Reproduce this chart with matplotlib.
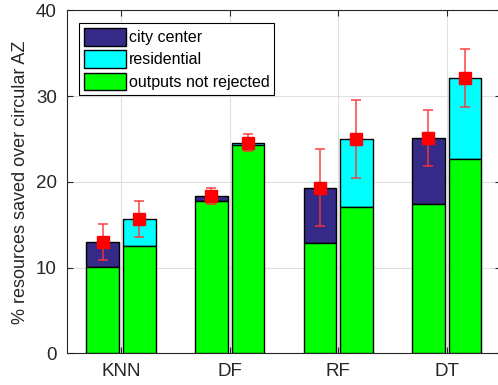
import numpy as np
import matplotlib.pyplot as plt

plt.rcParams['font.family'] = ['Liberation Sans', 'DejaVu Sans']

methods = ["KNN", "DF", "RF", "DT"]
# left bar of each group: city center, right bar: residential
not_rejected_city = [10.1, 17.8, 12.9, 17.4]
total_city = [12.95, 18.3, 19.3, 25.1]
err_city_hi = [15.1, 19.3, 23.8, 28.4]
err_city_lo = [10.85, 17.4, 14.85, 21.8]

not_rejected_res = [12.5, 24.25, 17.06, 22.7]
total_res = [15.7, 24.56, 24.95, 32.1]
err_res_hi = [17.8, 25.57, 29.5, 35.45]
err_res_lo = [13.6, 23.55, 20.5, 28.76]

C_CITY = "#352a87"
C_RES = "#00ffff"
C_GREEN = "#00ff00"

fig = plt.figure(figsize=(4.98, 3.85), dpi=100)
ax = fig.add_axes([66.7 / 498, (385 - 353.3) / 385, 434.3 / 498, 343 / 385])

x = np.arange(1, len(methods) + 1)
w = 0.30
off = 0.168
edge = dict(edgecolor="black", linewidth=1.0, zorder=3)

ax.bar(x - off, np.subtract(total_city, not_rejected_city), w, bottom=not_rejected_city,
       color=C_CITY, label="city center", **edge)
ax.bar(x + off, np.subtract(total_res, not_rejected_res), w, bottom=not_rejected_res,
       color=C_RES, label="residential", **edge)
ax.bar(x - off, not_rejected_city, w, color=C_GREEN, label="outputs not rejected", **edge)
ax.bar(x + off, not_rejected_res, w, color=C_GREEN, **edge)

for xs, mid, hi, lo in [(x - off, total_city, err_city_hi, err_city_lo),
                        (x + off, total_res, err_res_hi, err_res_lo)]:
    mid = np.array(mid)
    yerr = [mid - np.array(lo), np.array(hi) - mid]
    ax.errorbar(xs, mid, yerr=yerr, fmt="s", color="red", ecolor=(1, 0.2, 0.2, 0.85),
                markersize=8, elinewidth=1.2, capsize=3.5, capthick=1.2, zorder=5)

ax.set_xlim(0.5, 4.5)
ax.set_ylim(0, 40)
ax.set_xticks(x)
ax.set_xticklabels(methods)
ax.set_yticks([0, 10, 20, 30, 40])
ax.tick_params(labelsize=13.5, colors="#262626", direction="in", length=4,
               top=True, right=True, pad=7)
ax.set_ylabel("% resources saved over circular AZ", fontsize=13, color="#262626", labelpad=5)
ax.grid(True, color="#e0e0e0", linewidth=0.8, zorder=0)
ax.set_axisbelow(True)
for s in ax.spines.values():
    s.set_color("#262626")
    s.set_linewidth(0.8)

leg = ax.legend(loc="upper left", bbox_to_anchor=(0.029, 0.962), fontsize=11.5,
                fancybox=False, framealpha=1, edgecolor="black", borderpad=0.3,
                handlelength=2.6, handleheight=1.3, handletextpad=0.2, labelspacing=0.3,
                borderaxespad=0)
leg.get_frame().set_linewidth(0.8)

fig.savefig("out.png", dpi=100)
